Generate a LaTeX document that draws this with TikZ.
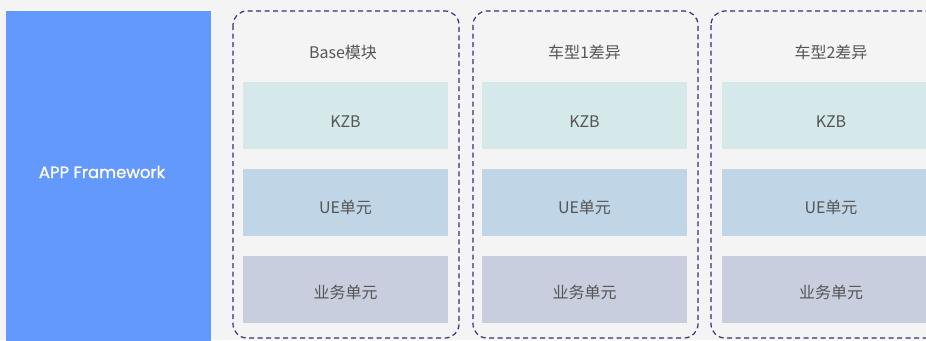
\documentclass[tikz,border=0pt]{standalone}
\usepackage{fontspec}
\setmainfont{Noto Sans CJK SC}
\newfontfamily\latinfont{Poppins}[FakeBold=1.0]
\definecolor{bgc}{HTML}{F4F4F4}
\definecolor{bluec}{HTML}{6398FC}
\definecolor{kzbc}{HTML}{D5E8EA}
\definecolor{uec}{HTML}{C0D5E5}
\definecolor{ywc}{HTML}{C9CEDE}
\definecolor{dashc}{HTML}{352F7A}
\definecolor{txtc}{HTML}{555555}
\tikzset{
  x=1pt, y=-1pt,
  container/.style={draw=dashc, line width=1.2pt, dash pattern=on 5pt off 3.5pt, rounded corners=14pt},
  layerbox/.style={minimum height=67pt, inner sep=0pt},
  labeltext/.style={text=txtc, font=\fontsize{16}{18}\selectfont, inner sep=0pt},
}
\begin{document}
\begin{tikzpicture}
\useasboundingbox (0,0) rectangle (926,340);
\clip (0,0) rectangle (926,340);
\fill[bgc] (0,0) rectangle (926,340);
\fill[bluec] (6,11) rectangle (211,345);
\node[text=white, font=\latinfont\fontsize{16.5}{18}\selectfont, inner sep=0pt] (app) at (102,172) {APP Framework};
% containers
\draw[container] (233,11) rectangle (459,338);
\draw[container] (473,11) rectangle (698,338);
\draw[container] (711,11) rectangle (952,338);
% titles
\node[labeltext] (t1) at (343,52) {Base模块};
\node[labeltext] (t2) at (584.5,52) {车型1差异};
\node[labeltext] (t3) at (831,52) {车型2差异};
% boxes
\node[layerbox, minimum width=205pt, fill=kzbc] (k1) at (345.5,115.5) {};
\node[layerbox, minimum width=205pt, fill=uec] (u1) at (345.5,202.5) {};
\node[layerbox, minimum width=205pt, fill=ywc] (y1) at (345.5,289.5) {};
\node[layerbox, minimum width=205pt, fill=kzbc] (k2) at (584.5,115.5) {};
\node[layerbox, minimum width=205pt, fill=uec] (u2) at (584.5,202.5) {};
\node[layerbox, minimum width=205pt, fill=ywc] (y2) at (584.5,289.5) {};
\node[layerbox, minimum width=218pt, fill=kzbc] (k3) at (831,115.5) {};
\node[layerbox, minimum width=218pt, fill=uec] (u3) at (831,202.5) {};
\node[layerbox, minimum width=218pt, fill=ywc] (y3) at (831,289.5) {};
% labels
\foreach \c/\xx in {1/345.5,2/584.5,3/831}{
  \node[labeltext] (kl\c) at (\xx,122) {KZB};
  \node[labeltext] (ul\c) at (\xx,207.5) {UE单元};
  \node[labeltext] (yl\c) at (\xx,292) {业务单元};
}
\end{tikzpicture}
\end{document}
